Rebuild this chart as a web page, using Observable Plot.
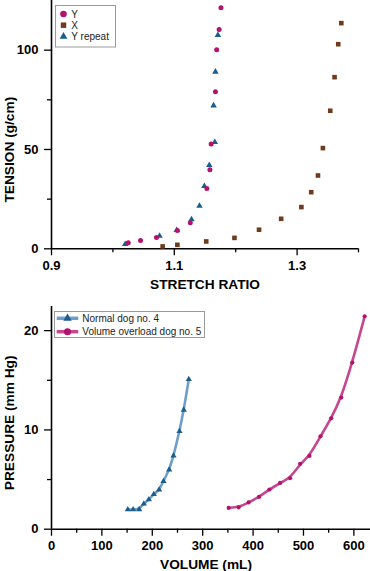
<!DOCTYPE html>
<html>
<head>
<meta charset="utf-8">
<script src="https://cdn.jsdelivr.net/npm/d3@7"></script>
<script src="https://cdn.jsdelivr.net/npm/@observablehq/plot@0.6"></script>
<style>
  body { margin: 0; background: #fff; }
  #wrap { position: relative; width: 370px; height: 571px; font-family: "Liberation Sans", Arial, sans-serif; }
  #wrap svg { display: block; }
</style>
</head>
<body>
<div id="wrap"></div>
<script>
// ---------- Top chart data ----------
const stretchY   = [1.025, 1.045, 1.071, 1.105, 1.126, 1.153, 1.158, 1.160, 1.167, 1.169, 1.173, 1.176];
const tensionY   = [3.0, 4.2, 5.7, 9.2, 13.1, 30.4, 39.8, 52.7, 79.0, 100.2, 110.4, 121.3];
const stretchX   = [1.081, 1.105, 1.152, 1.198, 1.238, 1.274, 1.307, 1.323, 1.334, 1.342, 1.354, 1.361, 1.367, 1.372];
const tensionX   = [1.2, 2.0, 3.7, 5.5, 9.6, 15.1, 21.0, 28.5, 36.9, 50.7, 69.5, 86.4, 103.0, 113.6];
const stretchYr  = [1.020, 1.076, 1.104, 1.128, 1.141, 1.149, 1.157, 1.166, 1.164, 1.167, 1.171];
const tensionYr  = [2.3, 6.5, 9.4, 14.8, 21.6, 31.5, 42.1, 53.7, 72.1, 89.1, 107.6];
const topSeries  = ["Y", "X", "Y repeat"];
const topXTicks  = [0.9, 1.1, 1.3];
const topXMinor  = [1.0, 1.2, 1.4];
const topYTicks  = [0, 50, 100];
const topYMinor  = [25, 75];
const topXLabel  = "STRETCH RATIO";
const topYLabel  = "TENSION (g/cm)";

// ---------- Bottom chart data ----------
const volumeNormal     = [151.4, 162.0, 174.0, 183.2, 193.1, 203.0, 213.6, 222.2, 233.5, 242.1, 254.0, 262.5, 272.4];
const pressureNormal   = [1.98, 1.98, 2.0, 2.56, 2.99, 3.52, 3.97, 4.83, 5.98, 7.39, 9.87, 12.02, 15.1];
const volumeOverload   = [351.5, 371.4, 391.2, 411.8, 432.4, 453.6, 473.5, 493.4, 511.9, 533.8, 555.0, 574.9, 596.8, 621.4];
const pressureOverload = [2.15, 2.2, 2.7, 3.25, 4.0, 4.66, 5.13, 6.58, 7.38, 9.36, 11.17, 13.26, 16.78, 21.44];
const bottomSeries     = ["Normal dog no. 4", "Volume overload dog no. 5"];
const botXTicks  = [0, 100, 200, 300, 400, 500, 600];
const botXMinor  = [50, 150, 250, 350, 450, 550];
const botYTicks  = [0, 10, 20];
const botYMinor  = [5, 15];
const botXLabel  = "VOLUME (mL)";
const botYLabel  = "PRESSURE (mm Hg)";

// ---------- styles ----------
const MAGENTA = "#b3136d", BROWN = "#6e3b1c", BLUE = "#1b5d8c";
const BLUE_LINE = "#6d9ec7", PINK_LINE = "#c4478f";
const FONT = '"Liberation Sans", Arial, sans-serif';

const zipXY = (xs, ys) => xs.map((x, i) => ({x, y: ys[i]}));
const dataY  = zipXY(stretchY, tensionY);
const dataX  = zipXY(stretchX, tensionX);
const dataYr = zipXY(stretchYr, tensionYr);
const dataN  = zipXY(volumeNormal, pressureNormal);
const dataO  = zipXY(volumeOverload, pressureOverload);

const axisStyle = {fontFamily: FONT, fontSize: "13px", fontWeight: "bold", color: "#000", background: "transparent", overflow: "visible"};
const labelOpts = {fontSize: 13.7, fontWeight: "bold", fill: "#000", textAnchor: "middle", lineAnchor: "middle"};

const topChart = Plot.plot({
  width: 370, height: 292,
  marginLeft: 51, marginRight: 12, marginTop: 0, marginBottom: 43.7,
  style: axisStyle,
  x: {domain: [0.9, 1.4]},
  y: {domain: [0, 125]},
  marks: [
    Plot.axisX(topXTicks, {tickSize: 7, tickPadding: 5, tickFormat: d3.format(".1f"), label: null, strokeWidth: 1.3}),
    Plot.axisX(topXMinor, {tickSize: 4, tickFormat: () => "", label: null, strokeWidth: 1.3}),
    Plot.axisY(topYTicks, {tickSize: 7, tickPadding: 6, label: null, strokeWidth: 1.3}),
    Plot.axisY(topYMinor, {tickSize: 4, tickFormat: () => "", label: null, strokeWidth: 1.3}),
    Plot.ruleX([0.9], {stroke: "#000", strokeWidth: 1.6}),
    Plot.ruleY([0], {stroke: "#000", strokeWidth: 1.6}),
    Plot.text([topXLabel], {...labelOpts, frameAnchor: "bottom", dy: 35.5}),
    Plot.text([topYLabel], {...labelOpts, frameAnchor: "left", rotate: -90, dx: -42, dy: 25}),
    Plot.dot(dataX, {x: "x", y: "y", symbol: "square", r: 2.6, fill: BROWN, stroke: "none"}),
    Plot.dot(dataYr, {x: "x", y: "y", symbol: "triangle", r: 2.4, fill: BLUE, stroke: "none"}),
    Plot.dot(dataY, {x: "x", y: "y", symbol: "circle", r: 2.5, fill: MAGENTA, stroke: "none"})
  ]
});

const bottomChart = Plot.plot({
  width: 370, height: 279,
  marginLeft: 51, marginRight: 0, marginTop: 14, marginBottom: 42.3,
  style: axisStyle,
  x: {domain: [0, 633]},
  y: {domain: [0, 22.43]},
  marks: [
    Plot.axisX(botXTicks, {tickSize: 7, tickPadding: 5, label: null, strokeWidth: 1.3}),
    Plot.axisX(botXMinor, {tickSize: 4, tickFormat: () => "", label: null, strokeWidth: 1.3}),
    Plot.axisY(botYTicks, {tickSize: 7, tickPadding: 6, label: null, strokeWidth: 1.3}),
    Plot.axisY(botYMinor, {tickSize: 4, tickFormat: () => "", label: null, strokeWidth: 1.3}),
    Plot.ruleX([0], {stroke: "#000", strokeWidth: 1.6}),
    Plot.ruleY([0], {stroke: "#000", strokeWidth: 1.6}),
    Plot.text([botXLabel], {...labelOpts, frameAnchor: "bottom", dx: -5, dy: 35}),
    Plot.text([botYLabel], {...labelOpts, frameAnchor: "left", rotate: -90, dx: -41.5, dy: 5}),
    Plot.line(dataN, {x: "x", y: "y", curve: "basis", stroke: BLUE_LINE, strokeWidth: 2.6}),
    Plot.line(dataO, {x: "x", y: "y", curve: "basis", stroke: PINK_LINE, strokeWidth: 2.6}),
    Plot.dot(dataN, {x: "x", y: "y", symbol: "triangle", r: 2.3, fill: BLUE, stroke: "none"}),
    Plot.dot(dataO, {x: "x", y: "y", symbol: "circle", r: 2.1, fill: MAGENTA, stroke: "none"})
  ]
});

const wrap = document.getElementById("wrap");
wrap.appendChild(topChart);
wrap.appendChild(bottomChart);

// ---------- legends (overlay) ----------
const ov = d3.select(wrap).append("svg")
  .attr("width", 370).attr("height", 571)
  .style("position", "absolute").style("left", "0px").style("top", "0px")
  .style("pointer-events", "none")
  .style("font-family", FONT);

// top legend
ov.append("rect").attr("x", 55.5).attr("y", 5.5).attr("width", 60).attr("height", 41.5)
  .attr("fill", "#fff").attr("stroke", "#9a9a9a").attr("stroke-width", 1);
const topSym = [
  {type: d3.symbolCircle, size: 34, fill: MAGENTA},
  {type: d3.symbolSquare, size: 30, fill: BROWN},
  {type: d3.symbolTriangle, size: 26, fill: BLUE}
];
topSeries.forEach((name, i) => {
  const cy = 14 + i * 11.2;
  ov.append("path").attr("transform", `translate(63.5,${cy})`)
    .attr("d", d3.symbol().type(topSym[i].type).size(topSym[i].size)()).attr("fill", topSym[i].fill);
  ov.append("text").attr("x", 71.3).attr("y", cy).attr("dy", "0.35em")
    .attr("font-size", 10).attr("fill", "#222").text(name);
});

// bottom legend
ov.append("rect").attr("x", 54.5).attr("y", 311.5).attr("width", 150).attr("height", 26)
  .attr("fill", "#fff").attr("stroke", "#9a9a9a").attr("stroke-width", 1);
const botSym = [
  {type: d3.symbolTriangle, size: 30, fill: BLUE, line: BLUE_LINE},
  {type: d3.symbolCircle, size: 40, fill: MAGENTA, line: PINK_LINE}
];
bottomSeries.forEach((name, i) => {
  const cy = 318.3 + i * 13.4;
  ov.append("line").attr("x1", 56.7).attr("x2", 78.3).attr("y1", cy).attr("y2", cy)
    .attr("stroke", botSym[i].line).attr("stroke-width", 3.5);
  ov.append("path").attr("transform", `translate(67.5,${cy})`)
    .attr("d", d3.symbol().type(botSym[i].type).size(botSym[i].size)()).attr("fill", botSym[i].fill);
  ov.append("text").attr("x", 82.3).attr("y", cy).attr("dy", "0.35em")
    .attr("font-size", 10).attr("fill", "#222").text(name);
});
</script>
</body>
</html>
